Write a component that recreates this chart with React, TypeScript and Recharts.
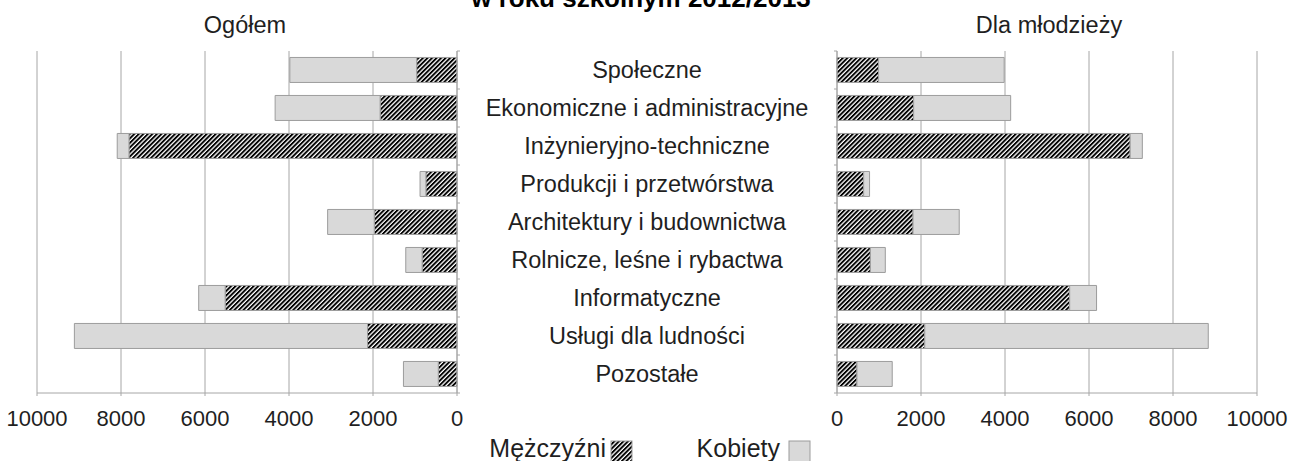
import { BarChart, Bar, XAxis, YAxis, CartesianGrid } from 'recharts';

const categories = [
  'Społeczne',
  'Ekonomiczne i administracyjne',
  'Inżynieryjno-techniczne',
  'Produkcji i przetwórstwa',
  'Architektury i budownictwa',
  'Rolnicze, leśne i rybactwa',
  'Informatyczne',
  'Usługi dla ludności',
  'Pozostałe',
];
const ogolemMen = [960, 1830, 7810, 740, 1970, 830, 5520, 2130, 445];
const ogolemWomen = [3020, 2500, 280, 140, 1110, 390, 630, 6980, 830];
const mlodziezMen = [990, 1825, 6980, 635, 1810, 795, 5540, 2090, 475];
const mlodziezWomen = [2990, 2310, 290, 140, 1100, 355, 640, 6750, 840];
const xTicks = [0, 2000, 4000, 6000, 8000, 10000];

const GRID = '#a6a6a6';
const TEXT = '#1f1f1f';
const GREY_FILL = '#d9d9d9';
const BAR_STROKE = '#9c9c9c';

const leftData = categories.map((name, i) => ({ name, men: ogolemMen[i], women: ogolemWomen[i] }));
const rightData = categories.map((name, i) => ({ name, men: mlodziezMen[i], women: mlodziezWomen[i] }));

function Hatch({ id }: { id: string }) {
  return (
    <pattern id={id} patternUnits="userSpaceOnUse" width={3.2} height={3.2} patternTransform="rotate(45)">
      <rect x={0} y={0} width={3.2} height={3.2} fill="#fff" />
      <rect x={0} y={0} width={1.9} height={3.2} fill="#000" />
    </pattern>
  );
}

// category labels sit in the gap between the two charts, tick marks at band edges
function CategoryTick(props: any) {
  const { x, y, payload, side, showLabel } = props;
  const half = payload?.offset || 19;
  const dir = side === 'right' ? 1 : -1;
  const last = payload.index === categories.length - 1;
  return (
    <g>
      <line x1={x} x2={x + dir * 3} y1={y - half} y2={y - half} stroke={GRID} />
      {last && <line x1={x} x2={x + dir * 3} y1={y + half} y2={y + half} stroke={GRID} />}
      {showLabel && (
        <text x={x + 190} y={y} dy="0.35em" textAnchor="middle" fill={TEXT} fontSize={23.5}>
          {payload.value}
        </text>
      )}
    </g>
  );
}

const xTick = { fill: TEXT, fontSize: 22 };

export default function App() {
  return (
    <div style={{ position: 'absolute', left: 0, top: 0, width: 1292, height: 461, overflow: 'hidden', background: '#fff', fontFamily: '"Liberation Sans", Arial, sans-serif' }}>
      <svg width={1292} height={461} style={{ position: 'absolute', left: 0, top: 0 }}>
        <defs>
          <Hatch id="hatchLegend" />
        </defs>
        <text x={641} y={7} textAnchor="middle" fontSize={26} fontWeight="bold" fill="#000">w roku szkolnym 2012/2013</text>
        <text x={245} y={33} textAnchor="middle" fontSize={23.5} fill={TEXT}>Ogółem</text>
        <text x={1049} y={33} textAnchor="middle" fontSize={23.5} fill={TEXT}>Dla młodzieży</text>
        <text x={606} y={457} textAnchor="end" fontSize={25} fill={TEXT}>Mężczyźni</text>
        <rect x={611} y={441} width={21} height={21} fill="url(#hatchLegend)" stroke={BAR_STROKE} />
        <text x={780} y={457} textAnchor="end" fontSize={25} fill={TEXT}>Kobiety</text>
        <rect x={789} y={441} width={21} height={21} fill={GREY_FILL} stroke={BAR_STROKE} />
      </svg>

      <div style={{ position: 'absolute', left: 0, top: 0 }}>
        <BarChart width={837} height={461} data={leftData} layout="vertical" barCategoryGap="17%" margin={{ top: 51, right: 0, bottom: 28, left: 37 }}>
          <defs>
            <Hatch id="hatchL" />
          </defs>
          <CartesianGrid horizontal={false} stroke={GRID} />
          <XAxis type="number" domain={[0, 10000]} ticks={xTicks} reversed height={40} tick={xTick} tickSize={3} tickMargin={14} stroke={GRID} interval={0} />
          <YAxis type="category" dataKey="name" orientation="right" width={380} stroke={GRID} tickLine={false} tickSize={0} tickMargin={0} interval={0} tick={<CategoryTick side="right" showLabel />} />
          <Bar dataKey="men" stackId="a" fill="url(#hatchL)" stroke={BAR_STROKE} isAnimationActive={false} />
          <Bar dataKey="women" stackId="a" fill={GREY_FILL} stroke={BAR_STROKE} isAnimationActive={false} />
        </BarChart>
      </div>

      <div style={{ position: 'absolute', left: 800, top: 0 }}>
        <BarChart width={492} height={461} data={rightData} layout="vertical" barCategoryGap="17%" margin={{ top: 51, right: 35, bottom: 28, left: 0 }}>
          <defs>
            <Hatch id="hatchR" />
          </defs>
          <CartesianGrid horizontal={false} stroke={GRID} />
          <XAxis type="number" domain={[0, 10000]} ticks={xTicks} height={40} tick={xTick} tickSize={3} tickMargin={14} stroke={GRID} interval={0} />
          <YAxis type="category" dataKey="name" width={37} stroke={GRID} tickLine={false} tickSize={0} tickMargin={0} interval={0} tick={<CategoryTick side="left" />} />
          <Bar dataKey="men" stackId="a" fill="url(#hatchR)" stroke={BAR_STROKE} isAnimationActive={false} />
          <Bar dataKey="women" stackId="a" fill={GREY_FILL} stroke={BAR_STROKE} isAnimationActive={false} />
        </BarChart>
      </div>
    </div>
  );
}
